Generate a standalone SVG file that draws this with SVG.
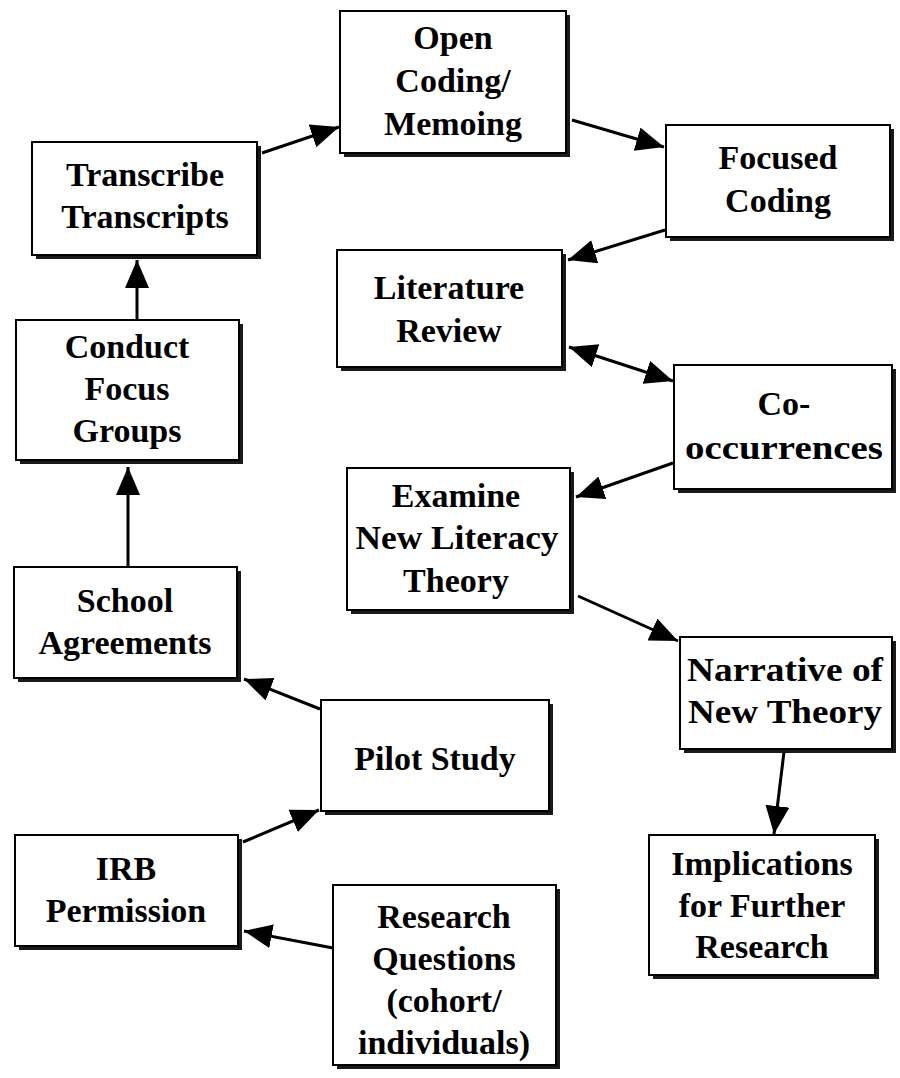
<svg xmlns="http://www.w3.org/2000/svg" width="900" height="1078" viewBox="0 0 900 1078">
  <style>
    .shadow { fill: #1a1a1a; }
    .box { fill: #ffffff; stroke: #000000; stroke-width: 2; }
    .label { font-family: "Liberation Serif", "Times New Roman", serif; font-size: 34px; font-weight: bold; fill: #000000; text-anchor: middle; }
    .edge { fill: none; stroke: #000000; stroke-width: 3; marker-end: url(#arrow); }
    .edge2 { fill: none; stroke: #000000; stroke-width: 3; marker-start: url(#arrow); marker-end: url(#arrow); }
  </style>
  <defs>
    <marker id="arrow" markerUnits="userSpaceOnUse" markerWidth="30" markerHeight="26" refX="28" refY="12" orient="auto-start-reverse">
      <path d="M0,0 L28,12 L0,24 z" fill="#000000"/>
    </marker>
  </defs>

  <rect width="900" height="1078" fill="#ffffff"/>

  <!-- connectors -->
  <g id="connectors">
    <line class="edge" x1="137" y1="320" x2="137" y2="260"/>
    <line class="edge" x1="128" y1="567" x2="128" y2="467"/>
    <line class="edge" x1="262" y1="153" x2="339" y2="127"/>
    <line class="edge" x1="572" y1="120" x2="664" y2="147"/>
    <line class="edge" x1="665" y1="230" x2="568" y2="260"/>
    <line class="edge2" x1="569" y1="347" x2="673" y2="381"/>
    <line class="edge" x1="673" y1="463" x2="576" y2="497"/>
    <line class="edge" x1="578" y1="596" x2="678" y2="641"/>
    <line class="edge" x1="784" y1="752" x2="774" y2="834"/>
    <line class="edge" x1="320" y1="709" x2="244" y2="679"/>
    <line class="edge" x1="243" y1="842" x2="319" y2="810"/>
    <line class="edge" x1="333" y1="948" x2="244" y2="931"/>
  </g>

  <!-- nodes -->
  <g id="open-coding">
    <rect class="shadow" x="344" y="15" width="226" height="142"/>
    <rect class="box" x="340" y="11" width="226" height="142"/>
    <text class="label" x="453" y="49">Open</text>
    <text class="label" x="453" y="92">Coding/</text>
    <text class="label" x="453" y="135">Memoing</text>
  </g>

  <g id="transcribe">
    <rect class="shadow" x="36" y="146" width="225" height="113"/>
    <rect class="box" x="32" y="142" width="225" height="113"/>
    <text class="label" x="145" y="186">Transcribe</text>
    <text class="label" x="145" y="228">Transcripts</text>
  </g>

  <g id="focused-coding">
    <rect class="shadow" x="670" y="129" width="224" height="112"/>
    <rect class="box" x="666" y="125" width="224" height="112"/>
    <text class="label" x="778" y="169">Focused</text>
    <text class="label" x="778" y="212">Coding</text>
  </g>

  <g id="literature-review">
    <rect class="shadow" x="341" y="254" width="225" height="117"/>
    <rect class="box" x="337" y="250" width="225" height="117"/>
    <text class="label" x="449" y="299">Literature</text>
    <text class="label" x="449" y="342">Review</text>
  </g>

  <g id="conduct-focus-groups">
    <rect class="shadow" x="20" y="324" width="223" height="140"/>
    <rect class="box" x="16" y="320" width="223" height="140"/>
    <text class="label" x="127" y="358">Conduct</text>
    <text class="label" x="127" y="400">Focus</text>
    <text class="label" x="127" y="442">Groups</text>
  </g>

  <g id="co-occurrences">
    <rect class="shadow" x="678" y="369" width="218" height="124"/>
    <rect class="box" x="674" y="365" width="218" height="124"/>
    <text class="label" x="784" y="415">Co-</text>
    <text class="label" x="784" y="459" textLength="198" lengthAdjust="spacingAndGlyphs">occurrences</text>
  </g>

  <g id="examine-theory">
    <rect class="shadow" x="351" y="472" width="223" height="142"/>
    <rect class="box" x="347" y="468" width="223" height="142"/>
    <text class="label" x="456" y="507">Examine</text>
    <text class="label" x="457" y="549" textLength="203" lengthAdjust="spacingAndGlyphs">New Literacy</text>
    <text class="label" x="456" y="592">Theory</text>
  </g>

  <g id="school-agreements">
    <rect class="shadow" x="18" y="571" width="223" height="111"/>
    <rect class="box" x="14" y="567" width="223" height="111"/>
    <text class="label" x="125" y="612">School</text>
    <text class="label" x="125" y="654">Agreements</text>
  </g>

  <g id="narrative">
    <rect class="shadow" x="684" y="641" width="212" height="112"/>
    <rect class="box" x="680" y="637" width="212" height="112"/>
    <text class="label" x="785" y="681" textLength="196" lengthAdjust="spacingAndGlyphs">Narrative of</text>
    <text class="label" x="785" y="723" textLength="194" lengthAdjust="spacingAndGlyphs">New Theory</text>
  </g>

  <g id="pilot-study">
    <rect class="shadow" x="325" y="704" width="228" height="111"/>
    <rect class="box" x="321" y="700" width="228" height="111"/>
    <text class="label" x="435" y="770">Pilot Study</text>
  </g>

  <g id="irb-permission">
    <rect class="shadow" x="19" y="839" width="223" height="111"/>
    <rect class="box" x="15" y="835" width="223" height="111"/>
    <text class="label" x="126" y="880">IRB</text>
    <text class="label" x="126" y="922">Permission</text>
  </g>

  <g id="research-questions">
    <rect class="shadow" x="337" y="889" width="223" height="180"/>
    <rect class="box" x="333" y="885" width="223" height="180"/>
    <text class="label" x="444" y="928">Research</text>
    <text class="label" x="444" y="970">Questions</text>
    <text class="label" x="444" y="1012">(cohort/</text>
    <text class="label" x="444" y="1054">individuals)</text>
  </g>

  <g id="implications">
    <rect class="shadow" x="653" y="839" width="226" height="140"/>
    <rect class="box" x="649" y="835" width="226" height="140"/>
    <text class="label" x="762" y="875">Implications</text>
    <text class="label" x="762" y="917">for Further</text>
    <text class="label" x="762" y="958">Research</text>
  </g>
</svg>
